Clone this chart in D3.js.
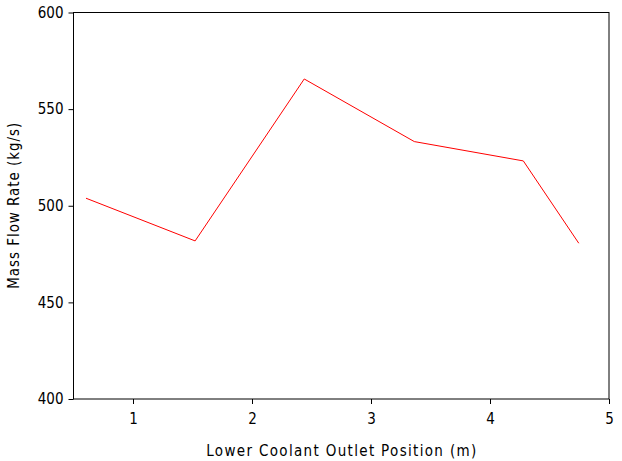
<!DOCTYPE html>
<html>
<head>
<meta charset="utf-8">
<script src="https://cdn.jsdelivr.net/npm/d3@7"></script>
<style>
  body { margin: 0; background: white; }
  text { font-family: "DejaVu Sans Condensed", "DejaVu Sans", sans-serif; font-stretch: condensed; }
</style>
</head>
<body>
<div id="chart"></div>
<script>
// outlet position (m) vs mass flow rate (kg/s)
const positions = [0.605, 1.522, 2.439, 3.364, 4.28, 4.746];
const flowRates = [503.9, 481.8, 565.6, 533.2, 523.2, 480.6];
const xTicks = [1, 2, 3, 4, 5];
const yTicks = [400, 450, 500, 550, 600];

const margin = { top: 12.5, right: 13, bottom: 62, left: 73.5 };
const width = 622 - margin.left - margin.right;
const height = 461 - margin.top - margin.bottom;

const svg = d3
  .select("#chart")
  .append("svg")
  .attr("width", 622)
  .attr("height", 461)
  .append("g")
  .attr("transform", "translate(" + margin.left + "," + margin.top + ")");

const x = d3.scaleLinear().domain([0.5, 5]).range([0, width]);
const y = d3.scaleLinear().domain([400, 600]).range([height, 0]);

const xAxis = d3.axisBottom(x).tickValues(xTicks).tickSize(5).tickPadding(9).tickFormat(d3.format("d"));
const yAxis = d3.axisLeft(y).tickValues(yTicks).tickSize(5).tickPadding(5).tickFormat(d3.format("d"));

const gx = svg.append("g").attr("transform", `translate(0 ${height})`).call(xAxis);
const gy = svg.append("g").call(yAxis);

[gx, gy].forEach((g) => {
  g.select(".domain").remove();
  g.selectAll("line").attr("stroke", "#000");
  g.selectAll("text").style("font-size", "15px").attr("fill", "#000");
});

// frame
svg
  .append("rect")
  .attr("width", width)
  .attr("height", height)
  .attr("fill", "none")
  .attr("stroke", "#000");

const data = positions.map((p, i) => ({ x: p, y: flowRates[i] }));

svg
  .append("path")
  .datum(data)
  .attr("fill", "none")
  .attr("stroke", "#ff0000")
  .attr("stroke-width", 1)
  .attr("d", d3.line().x((d) => x(d.x)).y((d) => y(d.y)));

svg
  .append("text")
  .attr("x", width / 2)
  .attr("y", height + 57)
  .attr("text-anchor", "middle")
  .attr("textLength", 270)
  .style("font-size", "15px")
  .text("Lower Coolant Outlet Position (m)");

svg
  .append("text")
  .attr("transform", `translate(${-55} ${height / 2}) rotate(-90)`)
  .attr("text-anchor", "middle")
  .attr("textLength", 166)
  .style("font-size", "15px")
  .text("Mass Flow Rate (kg/s)");
</script>
</body>
</html>
